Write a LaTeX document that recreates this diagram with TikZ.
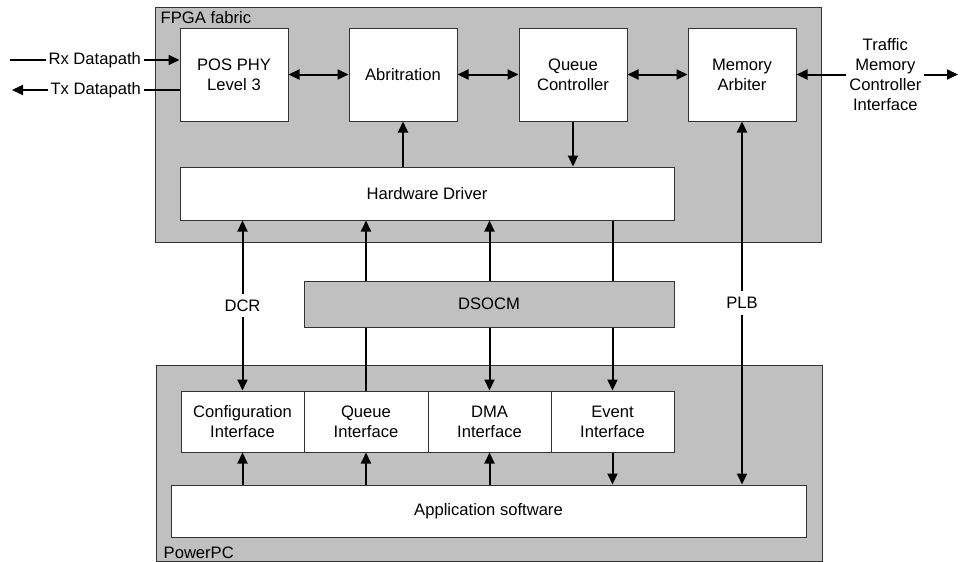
\documentclass[tikz,border=0pt]{standalone}
\usepackage{fontspec}
\setmainfont{Liberation Sans}
\usetikzlibrary{arrows.meta}
\definecolor{boxgray}{HTML}{C0C0C0}
\definecolor{edgegray}{HTML}{333333}
\tikzset{
  blk/.style={draw=edgegray,line width=1pt,fill=white,align=center,inner sep=0pt},
  grp/.style={draw=edgegray,line width=1pt,fill=boxgray,inner sep=0pt},
  arr/.style={line width=2pt,-{Triangle[length=11pt,width=10pt]}},
  arrb/.style={line width=2pt,{Triangle[length=11pt,width=10pt]}-{Triangle[length=11pt,width=10pt]}},
  lbl/.style={fill=white,inner xsep=3pt,inner ysep=6pt,align=center},
}
\begin{document}
\begin{tikzpicture}[x=1pt,y=-1pt,font=\fontsize{16.6}{20}\selectfont]
\useasboundingbox (0,0) rectangle (961,562);

% containers:
\node[grp,minimum width=666,minimum height=235] (fpga) at (488,124.5) {};
\node[anchor=north west,inner xsep=6pt,inner ysep=5pt] (fpgalbl) at (fpga.north west) {FPGA fabric};
\node[grp,minimum width=666,minimum height=196] (ppc) at (489,463) {};
\node[anchor=south west,inner xsep=8pt,inner ysep=3pt] (ppclbl) at (ppc.south west) {PowerPC};

% fabric blocks:
\node[blk,minimum width=108,minimum height=93] (pos) at (234,74.5) {POS PHY\\Level 3};
\node[blk,minimum width=108,minimum height=93] (arb) at (403,74.5) {Abritration};
\node[blk,minimum width=108,minimum height=93] (qc) at (573,74.5) {Queue\\Controller};
\node[blk,minimum width=108,minimum height=93] (mem) at (742,74.5) {Memory\\Arbiter};
\node[blk,minimum width=494,minimum height=53] (hw) at (427,193.5) {Hardware Driver};

% powerpc blocks:
\node[blk,minimum width=123,minimum height=61] (cfg) at (242.5,421.5) {Configuration\\Interface};
\node[blk,minimum width=124,minimum height=61] (qif) at (366,421.5) {Queue\\Interface};
\node[blk,minimum width=123,minimum height=61] (dma) at (489.5,421.5) {DMA\\Interface};
\node[blk,minimum width=123,minimum height=61] (evt) at (612.5,421.5) {Event\\Interface};
\node[blk,minimum width=635,minimum height=52] (app) at (488.5,511) {Application software};

% external ports:
\coordinate (rxin) at (10,60);
\coordinate (txout) at (12,90);
\coordinate (tmcout) at (958,74.5);
\draw[arr] (rxin) -- node[lbl] (rxlbl) {Rx Datapath} (rxin -| pos.west);
\draw[arr] (txout -| pos.west) -- node[lbl] (txlbl) {Tx Datapath} (txout);
\draw[arrb] (mem.east) -- node[lbl,pos=0.55] (tmclbl) {Traffic\\Memory\\Controller\\Interface} (tmcout);

% fabric links:
\draw[arrb] (pos) -- (arb);
\draw[arrb] (arb) -- (qc);
\draw[arrb] (qc) -- (mem);
\draw[arr] (arb.south |- hw.north) -- (arb.south);
\draw[arr] (qc.south) -- (qc.south |- hw.north);

% buses:
\draw[arrb] (cfg.north |- hw.south) -- node[lbl] (dcrlbl) {DCR} (cfg.north);
\draw[arr] (qif.north) -- (qif.north |- hw.south);
\draw[arrb] (dma.north |- hw.south) -- (dma.north);
\draw[arr] (evt.north |- hw.south) -- (evt.north);
\draw[arrb] (mem.south) -- node[lbl] (plblbl) {PLB} (mem.south |- app.north);
\node[grp,minimum width=370,minimum height=46] (dsocm) at (489,304) {DSOCM};

% software links:
\draw[arr] (cfg.south |- app.north) -- (cfg.south);
\draw[arr] (qif.south |- app.north) -- (qif.south);
\draw[arr] (dma.south |- app.north) -- (dma.south);
\draw[arr] (evt.south) -- (evt.south |- app.north);

\end{tikzpicture}
\end{document}
